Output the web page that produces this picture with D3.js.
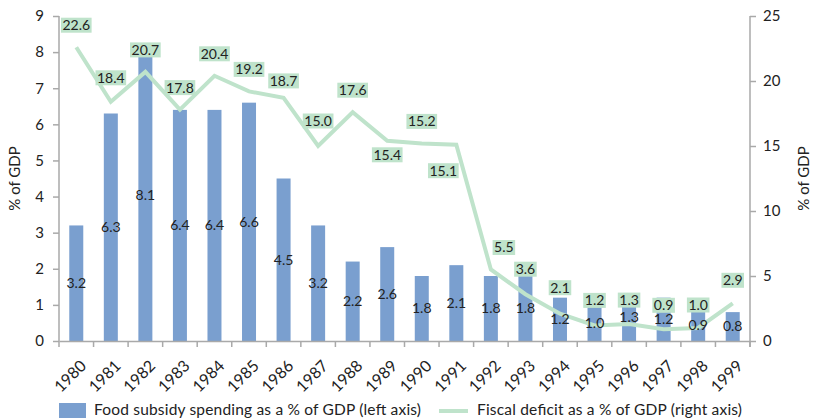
<!DOCTYPE html>
<html><head><meta charset="utf-8">
<script src="https://cdn.jsdelivr.net/npm/d3@7"></script>
<style>body{margin:0;background:#fff}svg{display:block;font-family:Lato,"DejaVu Sans",sans-serif}</style>
</head><body><svg id="c" width="814" height="419"></svg>
<script>
const years = ["1980","1981","1982","1983","1984","1985","1986","1987","1988","1989","1990","1991","1992","1993","1994","1995","1996","1997","1998","1999"];
const foodSubsidy = [3.2,6.3,8.1,6.4,6.4,6.6,4.5,3.2,2.2,2.6,1.8,2.1,1.8,1.8,1.2,1.0,1.3,1.2,0.9,0.8];
const fiscalDeficit = [22.6,18.4,20.7,17.8,20.4,19.2,18.7,15.0,17.6,15.4,15.2,15.1,5.5,3.6,2.1,1.2,1.3,0.9,1.0,2.9];
const leftTicks = [0,1,2,3,4,5,6,7,8,9];
const rightTicks = [0,5,10,15,20,25];
const legendLabels = ["Food subsidy spending as a % of GDP (left axis)","Fiscal deficit as a % of GDP (right axis)"];
// label placement offsets (style, not data)
const fiscalLabelDy = [-22,-24,-22,-22,-22,-22,-17,-25,-22,14,-22,26,-22,-25,-26,-25,-24,-24,-23,-23];
const fiscalLabelDx = [0,0,0,0,0,0,0,0,0,0,0,-13,13,0,0,0,0,0,0,0];

const svg = d3.select("#c");
const L = 59, R = 750, T = 16, B = 341;
const xb = d3.scaleBand().domain(years).range([L, R]);
const yL = d3.scaleLinear().domain([0, 9]).range([B, T]);
const yR = d3.scaleLinear().domain([0, 25]).range([B, T]);
const axisColor = "#a9a9a9";
const font = 14;

// bars
svg.append("g").selectAll("rect").data(years).join("rect")
  .attr("x", d => xb(d) + xb.bandwidth()/2 - 7)
  .attr("width", 14)
  .attr("y", (d,i) => yL(foodSubsidy[i]))
  .attr("height", (d,i) => B - yL(foodSubsidy[i]))
  .attr("fill", "#7a9fcf");

// axes
const gl = svg.append("g").attr("transform", `translate(${L},0)`)
  .call(d3.axisLeft(yL).tickValues(leftTicks).tickSize(6).tickPadding(9));
const gr = svg.append("g").attr("transform", `translate(${R},0)`)
  .call(d3.axisRight(yR).tickValues(rightTicks).tickSize(6).tickPadding(7));
const gx = svg.append("g").attr("transform", `translate(0,${B})`)
  .call(d3.axisBottom(xb).tickSize(0).tickPadding(0));
// boundary ticks
svg.append("g").selectAll("line").data(d3.range(years.length + 1)).join("line")
  .attr("x1", i => L + i * xb.bandwidth()).attr("x2", i => L + i * xb.bandwidth())
  .attr("y1", B).attr("y2", B + 6).attr("stroke", axisColor).attr("stroke-width", 1.5);

[gl, gr, gx].forEach(g => {
  g.selectAll(".domain").attr("stroke", axisColor).attr("stroke-width", 1.5);
  g.selectAll(".tick line").attr("stroke", axisColor).attr("stroke-width", 1.5);
  g.selectAll("text").attr("font-size", 15).attr("fill", "#222").attr("font-family", "Lato, sans-serif");
});
gl.select(".domain").attr("d", `M-0,${T}V${B}`);
gr.select(".domain").attr("d", `M0,${T}V${B+6}`);
gx.selectAll(".tick text")
  .attr("font-size", 16)
  .attr("text-anchor", "end")
  .attr("dy", "0.35em")
  .attr("transform", "translate(7,22) rotate(-45)");

// axis titles
svg.append("text").attr("transform", `translate(20,${(T+B)/2}) rotate(-90)`)
  .attr("text-anchor", "middle").attr("font-size", 15).attr("fill", "#222").text("% of GDP");
svg.append("text").attr("transform", `translate(809,${(T+B)/2}) rotate(-90)`)
  .attr("text-anchor", "middle").attr("font-size", 15).attr("fill", "#222").text("% of GDP");

// line
const line = d3.line().x((d,i) => xb(years[i]) + xb.bandwidth()/2).y(d => yR(d));
svg.append("path").datum(fiscalDeficit).attr("d", line)
  .attr("fill", "none").attr("stroke", "#bfe3cb").attr("stroke-width", 4).attr("stroke-linejoin", "miter");

// bar labels
svg.append("g").selectAll("text").data(years).join("text")
  .attr("x", d => xb(d) + xb.bandwidth()/2)
  .attr("y", (d,i) => (yL(foodSubsidy[i]) + B) / 2)
  .attr("dy", "0.35em").attr("text-anchor", "middle")
  .attr("font-size", font).attr("fill", "#222")
  .text((d,i) => foodSubsidy[i].toFixed(1));

// fiscal labels with boxes
const fl = svg.append("g").selectAll("g").data(years).join("g")
  .attr("transform", (d,i) => `translate(${xb(d) + xb.bandwidth()/2 + fiscalLabelDx[i]},${yR(fiscalDeficit[i]) + fiscalLabelDy[i]})`);
fl.append("text").attr("text-anchor", "middle").attr("dy", "0.35em")
  .attr("font-size", font).attr("fill", "#222")
  .text((d,i) => fiscalDeficit[i].toFixed(1));
fl.each(function() {
  const g = d3.select(this);
  const bb = g.select("text").node().getBBox();
  g.insert("rect", "text").attr("x", bb.x - 1.5).attr("y", -7.5).attr("width", bb.width + 3).attr("height", 15)
    .attr("fill", "#bfe3cb");
});

// legend
svg.append("rect").attr("x", 59).attr("y", 403).attr("width", 27).attr("height", 15).attr("fill", "#7a9fcf");
svg.append("text").attr("x", 94).attr("y", 410).attr("dy", "0.35em").attr("font-size", 15.5).attr("textLength", 327).attr("fill", "#222").text(legendLabels[0]);
svg.append("line").attr("x1", 439).attr("x2", 468).attr("y1", 411).attr("y2", 411).attr("stroke", "#bfe3cb").attr("stroke-width", 4);
svg.append("text").attr("x", 477).attr("y", 410).attr("dy", "0.35em").attr("font-size", 15.5).attr("textLength", 265).attr("fill", "#222").text(legendLabels[1]);
</script></body></html>
